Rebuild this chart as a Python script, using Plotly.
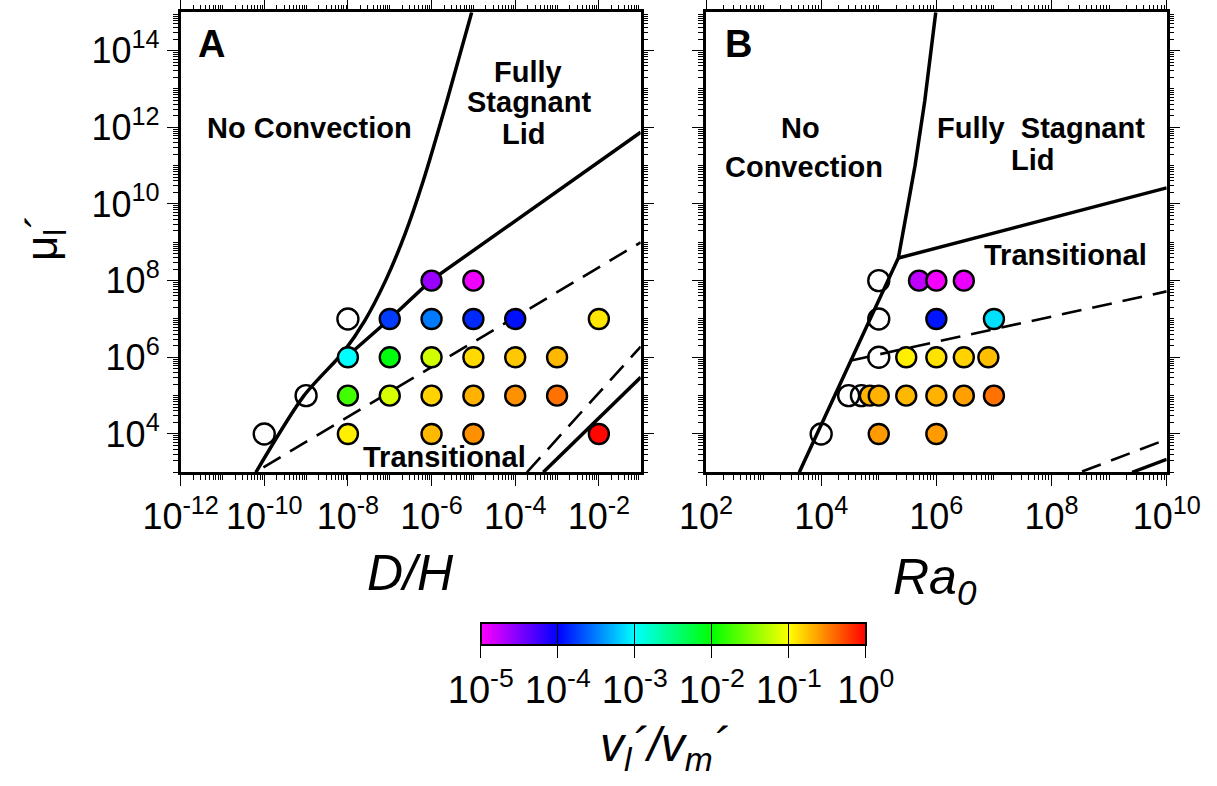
import numpy as np
import plotly.graph_objects as go

FONT = "Liberation Sans, Arial, Helvetica, sans-serif"

# ---------------- Panel A data: D/H vs mu_l', colour = v_l'/v_m' ----------------
A_dh = [1e-6, 1e-5,
        1e-7, 1e-6, 1e-5, 1e-4, 1e-2,
        1e-8, 1e-7, 1e-6, 1e-5, 1e-4, 1e-3,
        1e-8, 1e-7, 1e-6, 1e-5, 1e-4, 1e-3,
        1e-8, 1e-6, 1e-5, 1e-2]
A_mu = [1e8, 1e8,
        1e7, 1e7, 1e7, 1e7, 1e7,
        1e6, 1e6, 1e6, 1e6, 1e6, 1e6,
        1e5, 1e5, 1e5, 1e5, 1e5, 1e5,
        1e4, 1e4, 1e4, 1e4]
A_v = [2.5e-5, 1.15e-5,
       1.7e-4, 3.0e-4, 1.45e-4, 1.15e-4, 0.125,
       1.0e-3, 9.0e-3, 0.066, 0.14, 0.165, 0.19,
       0.018, 0.07, 0.15, 0.20, 0.27, 0.36,
       0.115, 0.19, 0.27, 0.95]
A_open_dh = [1e-8, 1e-9, 1e-10]
A_open_mu = [1e7, 1e5, 1e4]

# ---------------- Panel B data: Ra0 vs mu_l' ----------------
B_ra = [5e5, 1e6, 3e6,
        1e6, 1e7,
        3e5, 1e6, 3e6, 8e6,
        7e4, 1e5, 3e5, 1e6, 3e6, 1e7,
        1e5, 1e6]
B_mu = [1e8, 1e8, 1e8,
        1e7, 1e7,
        1e6, 1e6, 1e6, 1e6,
        1e5, 1e5, 1e5, 1e5, 1e5, 1e5,
        1e4, 1e4]
B_v = [1.8e-5, 1.1e-5, 1.2e-5,
       1.2e-4, 7.6e-4,
       0.115, 0.13, 0.15, 0.18,
       0.20, 0.20, 0.19, 0.20, 0.235, 0.36,
       0.25, 0.25]
B_open_ra = [1e5, 1e5, 1e5, 3e4, 5e4, 1e4]
B_open_mu = [1e8, 1e7, 1e6, 1e5, 1e5, 1e4]

# ---------------- Regime boundaries (log10 values) ----------------
A_noconv_lx = [-10.2, -9.05, -8.1, -7.6, -7.1, -6.64, -6.2, -5.63, -5.04]
A_noconv_ly = [3.0, 5.0, 6.15, 6.95, 8.0, 9.2, 10.6, 12.7, 15.0]
A_stag_lx = [-8.2, -7.0, -6.02, -1.0]
A_stag_ly = [5.85, 7.0, 8.0, 11.87]
A_dash1_lx = [-10.02, -1.0]
A_dash1_ly = [3.13, 9.0]
A_dash2_lx = [-3.72, -1.0]
A_dash2_ly = [3.0, 6.28]
A_solid3_lx = [-3.33, -1.0]
A_solid3_ly = [3.0, 5.48]

B_noconv_lx = [3.62, 5.34, 5.45, 5.63, 5.80, 5.99]
B_noconv_ly = [3.0, 8.59, 9.5, 11.0, 12.7, 15.0]
B_stag_lx = [5.34, 10.0]
B_stag_ly = [8.59, 10.42]
B_dash1_lx = [4.5, 10.0]
B_dash1_ly = [5.91, 7.72]
B_dash2_lx = [8.53, 10.0]
B_dash2_ly = [3.02, 3.86]
B_solid3_lx = [9.4, 10.0]
B_solid3_ly = [3.0, 3.34]

CB_ticks = [-5, -4, -3, -2, -1, 0]
RAINBOW = [[0.0, "#ff00ff"], [0.2, "#0000ff"], [0.4, "#00ffff"],
           [0.6, "#00ff00"], [0.8, "#ffff00"], [1.0, "#ff0000"]]

fig = go.Figure()


def add_line(lx, ly, xa, ya, dash=None, width=3.5, shape="linear"):
    fig.add_trace(go.Scatter(
        x=10.0 ** np.array(lx), y=10.0 ** np.array(ly), mode="lines",
        line=dict(color="black", width=width, dash=dash, shape=shape,
                  smoothing=0.8 if shape == "spline" else None),
        xaxis=xa, yaxis=ya, showlegend=False, hoverinfo="skip"))


DASH = "20px,11px"
add_line(A_noconv_lx, A_noconv_ly, "x", "y", shape="spline")
add_line(A_stag_lx, A_stag_ly, "x", "y")
add_line(A_dash1_lx, A_dash1_ly, "x", "y", DASH, 2.6)
add_line(A_dash2_lx, A_dash2_ly, "x", "y", DASH, 2.6)
add_line(A_solid3_lx, A_solid3_ly, "x", "y")
add_line(B_noconv_lx, B_noconv_ly, "x2", "y2")
add_line(B_stag_lx, B_stag_ly, "x2", "y2")
add_line(B_dash1_lx, B_dash1_ly, "x2", "y2", DASH, 2.6)
add_line(B_dash2_lx, B_dash2_ly, "x2", "y2", DASH, 2.6)
add_line(B_solid3_lx, B_solid3_ly, "x2", "y2")

MS = 20
for ox, oy, xa, ya in [(A_open_dh, A_open_mu, "x", "y"), (B_open_ra, B_open_mu, "x2", "y2")]:
    fig.add_trace(go.Scatter(
        x=ox, y=oy, mode="markers", xaxis=xa, yaxis=ya, showlegend=False,
        marker=dict(symbol="circle-open", size=MS + 1, color="black", line=dict(width=2.4))))

for px_, py_, pv, xa, ya in [(A_dh, A_mu, A_v, "x", "y"), (B_ra, B_mu, B_v, "x2", "y2")]:
    fig.add_trace(go.Scatter(
        x=px_, y=py_, mode="markers", xaxis=xa, yaxis=ya, showlegend=False,
        marker=dict(size=MS, color=np.log10(pv), coloraxis="coloraxis",
                    line=dict(color="black", width=2.4))))

# dummy trace for the colour-bar divider lines
fig.add_trace(go.Scatter(x=[None], y=[None], mode="markers", showlegend=False,
                         marker=dict(color=[0], coloraxis="coloraxis2")))


def minor_vals(e0, e1):
    return [m * 10.0 ** e for e in range(e0, e1 + 1) for m in range(1, 10)
            if not (m == 1 and e % 2 == 0)]


def sup(e):
    return "10<sup>%d</sup>" % e


axis_common = dict(type="log", showgrid=False, zeroline=False, showline=True,
                   linecolor="black", linewidth=2.5, mirror="allticks",
                   ticks="outside", ticklen=11, tickwidth=1.4, tickcolor="black",
                   automargin=False,
                   tickfont=dict(family=FONT, size=36, color="black"))

ax_ex = list(range(-12, -1, 2))
ax_bx = list(range(2, 11, 2))
ay = list(range(4, 15, 2))

W, H = 1217, 786
fig.update_layout(
    width=W, height=H, margin=dict(l=0, r=0, t=0, b=0, autoexpand=False),
    paper_bgcolor="white", plot_bgcolor="white",
    font=dict(family=FONT, color="black"),
    xaxis=dict(axis_common, domain=[180.6 / W, 640.7 / W], range=[-12, -1],
               tickvals=[10.0 ** e for e in ax_ex], ticktext=[sup(e) for e in ax_ex],
               minor=dict(tickvals=minor_vals(-12, -2), ticks="outside", ticklen=5,
                          tickwidth=1, tickcolor="black"),
               anchor="y"),
    yaxis=dict(axis_common, domain=[1 - 472.3 / H, 1 - 12.3 / H], range=[3, 15],
               tickvals=[10.0 ** e for e in ay], ticktext=[sup(e) for e in ay],
               minor=dict(tickvals=minor_vals(3, 14), ticks="outside", ticklen=5,
                          tickwidth=1, tickcolor="black"),
               anchor="x"),
    xaxis2=dict(axis_common, domain=[706 / W, 1166.7 / W], range=[2, 10],
                tickvals=[10.0 ** e for e in ax_bx], ticktext=[sup(e) for e in ax_bx],
                minor=dict(tickvals=minor_vals(2, 9), ticks="outside", ticklen=5,
                           tickwidth=1, tickcolor="black"),
                anchor="y2"),
    yaxis2=dict(axis_common, domain=[1 - 472.3 / H, 1 - 12.3 / H], range=[3, 15],
                tickvals=[10.0 ** e for e in ay], showticklabels=False,
                minor=dict(tickvals=minor_vals(3, 14), ticks="outside", ticklen=5,
                           tickwidth=1, tickcolor="black"),
                anchor="x2"),
    coloraxis=dict(colorscale=RAINBOW, cmin=-5, cmax=0,
                   colorbar=dict(orientation="h", x=673.3 / W, xanchor="center",
                                 y=1 - 622.7 / H, yanchor="top", len=384.7 / W,
                                 lenmode="fraction", thickness=22, thicknessmode="pixels",
                                 outlinewidth=2, outlinecolor="black", xpad=0, ypad=0,
                                 tickvals=CB_ticks, ticktext=[sup(e) for e in CB_ticks],
                                 ticks="outside", ticklen=12, tickwidth=1.2,
                                 tickcolor="black",
                                 tickfont=dict(family=FONT, size=38, color="black"))),
    coloraxis2=dict(colorscale=RAINBOW, cmin=-5, cmax=0,
                    colorbar=dict(orientation="h", x=673.3 / W, xanchor="center",
                                  y=1 - 622.7 / H, yanchor="top", len=384.7 / W,
                                  lenmode="fraction", thickness=22, thicknessmode="pixels",
                                  outlinewidth=2, outlinecolor="black", xpad=0, ypad=0,
                                  tickvals=CB_ticks, showticklabels=False,
                                  ticks="inside", ticklen=22, tickwidth=1.2,
                                  tickcolor="black")),
)


def note(text, lx, ly, xref, yref, size=29):
    fig.add_annotation(text="<b>%s</b>" % text, x=lx, y=ly, xref=xref, yref=yref,
                       showarrow=False, xanchor="center", yanchor="middle",
                       font=dict(family=FONT, size=size, color="black"))


note("A", -11.25, 14.18, "x", "y", 38)
note("No Convection", -8.92, 11.97, "x", "y")
note("Fully", -3.69, 13.44, "x", "y")
note("Stagnant", -3.67, 12.65, "x", "y")
note("Lid", -3.80, 11.83, "x", "y")
note("Transitional", -5.70, 3.39, "x", "y")

note("B", 2.56, 14.18, "x2", "y2", 38)
note("No", 3.64, 11.97, "x2", "y2")
note("Convection", 3.70, 10.96, "x2", "y2")
note("Fully&#160;&#160;Stagnant", 7.81, 11.97, "x2", "y2")
note("Lid", 7.68, 11.16, "x2", "y2")
note("Transitional", 8.25, 8.68, "x2", "y2")

# axis titles
fig.add_annotation(text="<i>D/H</i>", x=410 / W, y=1 - 573 / H, xref="paper", yref="paper",
                   showarrow=False, xanchor="center", yanchor="middle",
                   font=dict(family=FONT, size=50, color="black"))
fig.add_annotation(text="<i>Ra<sub>0</sub></i>", x=935 / W, y=1 - 580 / H, xref="paper",
                   yref="paper", showarrow=False, xanchor="center", yanchor="middle",
                   font=dict(family=FONT, size=50, color="black"))
fig.add_annotation(text="μ<sub>l</sub>´", x=45 / W, y=1 - 238 / H, xref="paper", yref="paper",
                   showarrow=False, xanchor="center", yanchor="middle", textangle=-90,
                   font=dict(family=FONT, size=44, color="black"))
fig.add_annotation(text="<i>v<sub>l</sub>´/v<sub>m</sub>´</i>", x=664 / W, y=1 - 748 / H,
                   xref="paper", yref="paper", showarrow=False, xanchor="center",
                   yanchor="middle", font=dict(family=FONT, size=48, color="black"))

fig.write_html("out.html")
